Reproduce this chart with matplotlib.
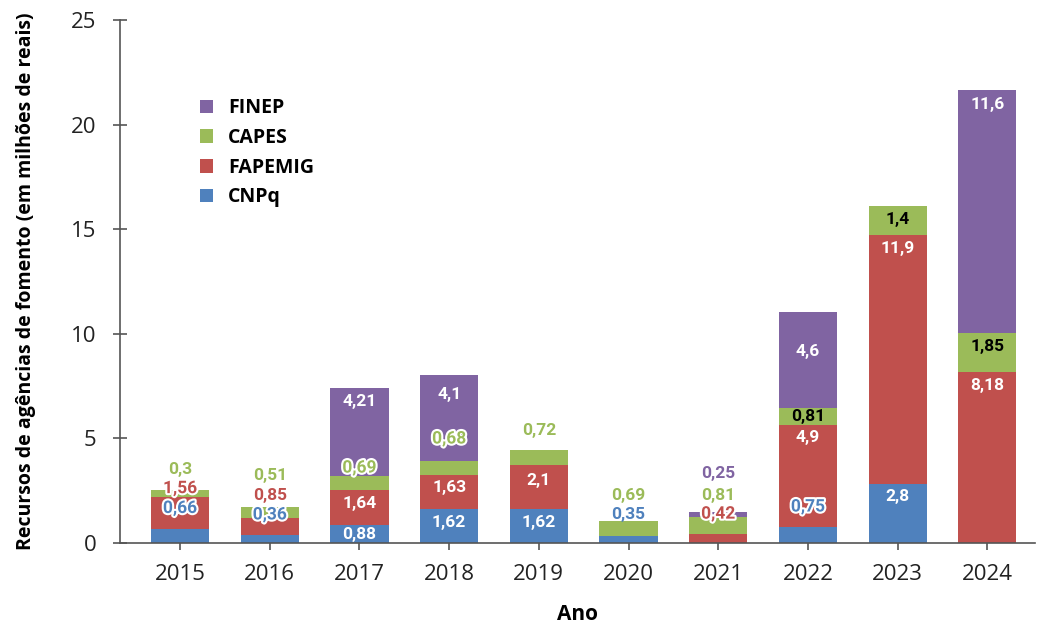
import matplotlib
matplotlib.use('Agg')
import numpy as np
import matplotlib.pyplot as plt
import matplotlib.patheffects as pe

years = ['2015', '2016', '2017', '2018', '2019', '2020', '2021', '2022', '2023', '2024']
cnpq = [0.66, 0.36, 0.88, 1.62, 1.62, 0.35, 0.0, 0.75, 2.8, 0.0]
fapemig = [1.56, 0.85, 1.64, 1.63, 2.1, 0.0, 0.42, 4.9, 11.9, 8.18]
capes = [0.3, 0.51, 0.69, 0.68, 0.72, 0.69, 0.81, 0.81, 1.4, 1.85]
finep = [0.0, 0.0, 4.21, 4.1, 0.0, 0.0, 0.25, 4.6, 0.0, 11.6]

series = [('CNPq', cnpq, '#4f81bd'), ('FAPEMIG', fapemig, '#c0504d'),
          ('CAPES', capes, '#9bbb59'), ('FINEP', finep, '#8064a2')]

# label placement: (year index, series name) -> (y position, text colour, outlined)
label_pos = {
    (0, 'CNPq'): (1.65, 'c', True), (0, 'FAPEMIG'): (2.60, 'c', True), (0, 'CAPES'): (3.52, 'c', False),
    (1, 'CNPq'): (1.34, 'c', True), (1, 'FAPEMIG'): (2.29, 'c', False), (1, 'CAPES'): (3.25, 'c', False),
    (2, 'CNPq'): (0.43, 'w', False), (2, 'FAPEMIG'): (1.91, 'w', False), (2, 'CAPES'): (3.58, 'c', True),
    (2, 'FINEP'): (6.74, 'w', False),
    (3, 'CNPq'): (1.0, 'w', False), (3, 'FAPEMIG'): (2.63, 'w', False), (3, 'CAPES'): (4.97, 'c', True),
    (3, 'FINEP'): (7.12, 'w', False),
    (4, 'CNPq'): (1.0, 'w', False), (4, 'FAPEMIG'): (3.01, 'w', False), (4, 'CAPES'): (5.40, 'c', False),
    (5, 'CNPq'): (1.34, 'c', False), (5, 'CAPES'): (2.29, 'c', False),
    (6, 'FAPEMIG'): (1.38, 'c', True), (6, 'CAPES'): (2.29, 'c', False), (6, 'FINEP'): (3.30, 'c', False),
    (7, 'CNPq'): (1.72, 'c', True), (7, 'FAPEMIG'): (5.02, 'w', False), (7, 'CAPES'): (6.07, 'k', False),
    (7, 'FINEP'): (9.13, 'w', False),
    (8, 'CNPq'): (2.20, 'w', False), (8, 'FAPEMIG'): (14.1, 'w', False), (8, 'CAPES'): (15.45, 'k', False),
    (9, 'FAPEMIG'): (7.55, 'w', False), (9, 'CAPES'): (9.37, 'k', False), (9, 'FINEP'): (20.94, 'w', False),
}

fig = plt.figure(figsize=(10.38, 6.24), dpi=100)
ax = fig.add_axes([0.1156, 0.1298, 0.8814, 0.8382])

x = np.arange(len(years))
bottom = np.zeros(len(years))
handles = {}
for name, vals, col in series:
    vals = np.array(vals)
    b = ax.bar(x, vals, 0.65, bottom=bottom, color=col, label=name, zorder=2)
    handles[name] = b
    for i, v in enumerate(vals):
        key = (i, name)
        if key not in label_pos:
            continue
        y, tc, outl = label_pos[key]
        txt = ('%g' % v).replace('.', ',')
        color = {'w': 'white', 'k': 'black', 'c': col}[tc]
        t = ax.text(i, y, txt, ha='center', va='center', fontsize=12.5,
                    fontweight='bold', family='Roboto', color=color, zorder=5)
        if outl:
            t.set_path_effects([pe.withStroke(linewidth=3, foreground='white')])
    bottom += vals

ax.set_xlim(-0.67, 9.53)
ax.set_ylim(0, 25)
ax.set_xticks(x)
ax.set_xticklabels(years)
ax.set_yticks([0, 5, 10, 15, 20, 25])
for s in ['top', 'right']:
    ax.spines[s].set_visible(False)
for s in ['left', 'bottom']:
    ax.spines[s].set_color('#555555')
    ax.spines[s].set_linewidth(1.2)
ax.tick_params(axis='both', direction='inout', length=10, width=1.2, color='#555555',
               labelsize=16, labelcolor='#222222')
for lab in ax.get_xticklabels() + ax.get_yticklabels():
    lab.set_family('Open Sans')
ax.tick_params(axis='y', pad=12)
ax.tick_params(axis='x', pad=10)

ax.set_xlabel('Ano', fontsize=15, fontweight='bold', family='Open Sans', labelpad=14)
ax.set_ylabel('Recursos de agências de fomento (em milhões de reais)', fontsize=14,
              fontweight='bold', family='Open Sans', labelpad=25)

order = ['FINEP', 'CAPES', 'FAPEMIG', 'CNPq']
leg = ax.legend([handles[n] for n in order], order, loc='upper left',
                bbox_to_anchor=(0.068, 0.884), frameon=False, handlelength=0.7,
                handleheight=0.7, labelspacing=0.5, handletextpad=0.75,
                prop={'family': 'Open Sans', 'weight': 'bold', 'size': 14})

fig.savefig('out.png', dpi=100)
